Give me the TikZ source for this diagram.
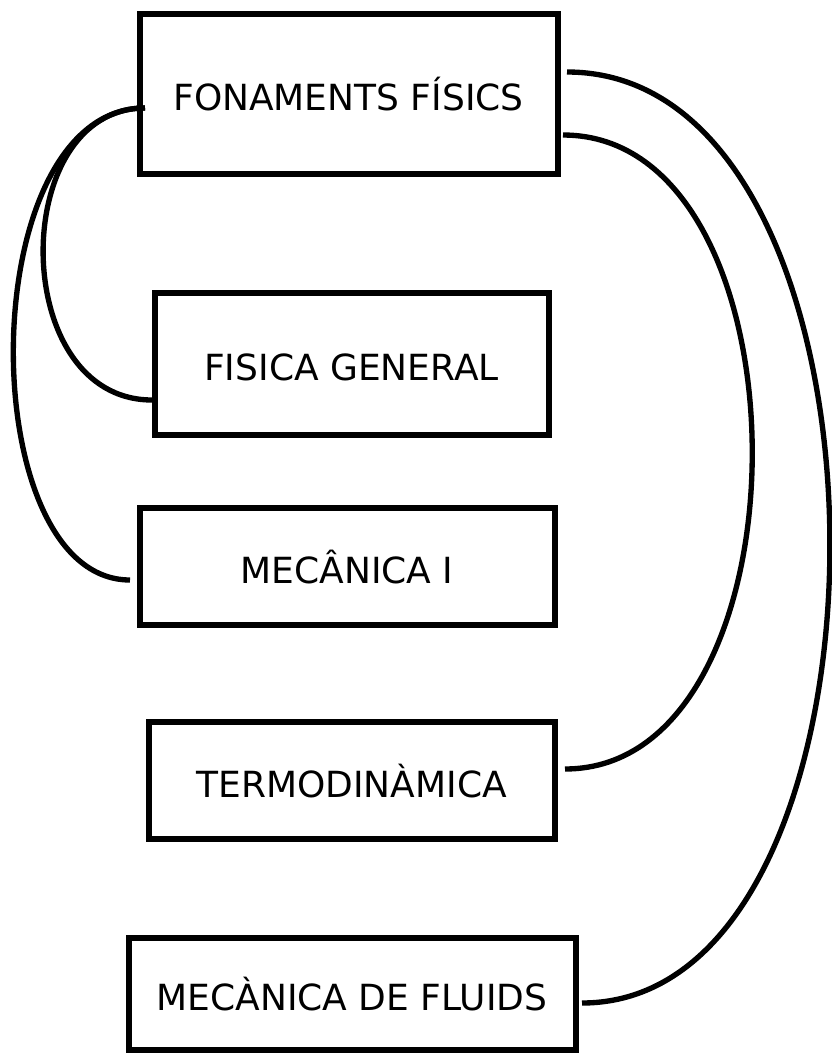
\documentclass[tikz,border=0pt]{standalone}
\usepackage{fontspec}
\setmainfont{DejaVu Sans}
\begin{document}
\begin{tikzpicture}[x=0.75pt,y=-0.75pt,
  box/.style={draw=black,line width=4.5pt,fill=none,outer sep=0pt,inner sep=0pt,
    font=\fontsize{27}{32}\selectfont,text height=25.7pt,text depth=0pt},
  link/.style={draw=black,line width=4pt}]
\useasboundingbox (0,0) rectangle (832,1057);
\node[box,minimum width=313.5pt,minimum height=120pt] (fon) at (348.5,93.5) {FONAMENTS FÍSICS};
\node[box,minimum width=295.5pt,minimum height=106.5pt] (gen) at (351.5,363.5) {FISICA GENERAL};
\node[box,minimum width=311.25pt,minimum height=87.75pt] (mec) at (347,566) {MECÂNICA I};
\node[box,minimum width=304.5pt,minimum height=87.75pt] (ter) at (351.5,780) {TERMODINÀMICA};
\node[box,minimum width=335.25pt,minimum height=84pt] (flu) at (352,993.5) {MECÀNICA DE FLUIDS};
\draw[link] ([shift={(5.5,14.5)}]fon.west) .. controls +(-137,0) and +(-144,0) .. ([shift={(-2.5,36.5)}]gen.west);
\draw[link] ([shift={(5.5,14.5)}]fon.west) .. controls +(-173,0) and +(-158,0) .. ([shift={(-9.5,14)}]mec.west);
\draw[link] ([shift={(9.5,-21.5)}]fon.east) .. controls +(348,0) and +(333,0) .. ([shift={(6.5,9.5)}]flu.east);
\draw[link] ([shift={(5.5,41.5)}]fon.east) .. controls +(252,0) and +(250,0) .. ([shift={(10.5,-11)}]ter.east);
\end{tikzpicture}
\end{document}
